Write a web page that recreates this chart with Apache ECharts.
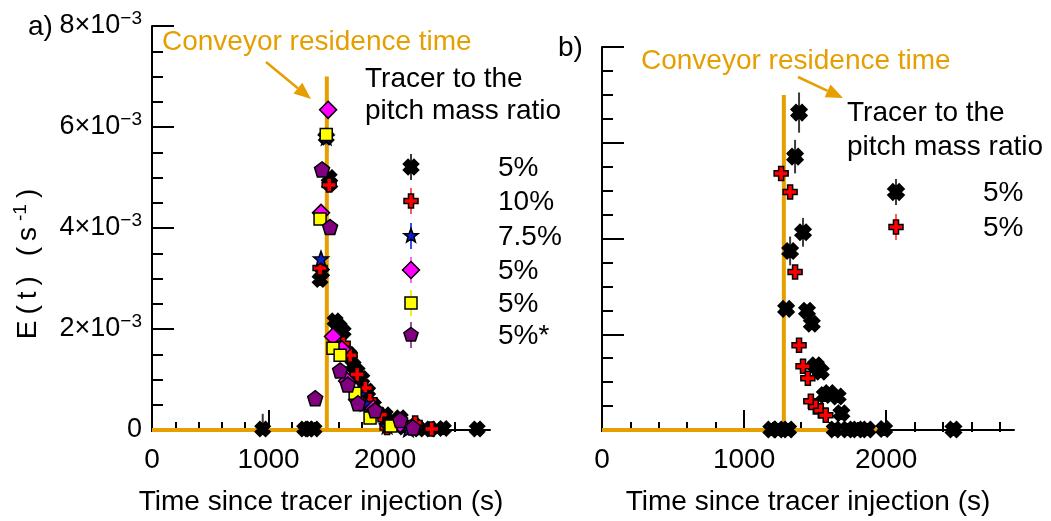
<!DOCTYPE html>
<html>
<head>
<meta charset="utf-8">
<script src="https://cdn.jsdelivr.net/npm/echarts@6/dist/echarts.min.js"></script>
<style>
  html, body { margin: 0; padding: 0; background: #ffffff; }
  #chart { width: 1051px; height: 521px; }
</style>
</head>
<body>
<div id="chart"></div>
<script>
// Residence-time distributions E(t) of tracer runs through the conveyor.
// Each point: [time since injection (s), E(t) (1/s), error half-width (1/s)]

const xMajorTicks = [0, 1000, 2000];
const xMinorTicks = [0, 200, 400, 600, 800, 1000, 1200, 1400, 1600, 1800, 2000, 2200, 2400, 2600, 2800];
const xMax = 2900;
const yMax = 0.008;
const yStep = 0.002;

// plug-flow reference (conveyor residence time)
const convA = [[0, 0], [1500, 0], [1500, 0.007], [1500, 0], [2000, 0]];
const convB = [[0, 0], [1280, 0], [1280, 0.007], [1280, 0], [1940, 0]];

// panel a) runs
const aBlack5 = [
  [950, 0.00002, 0.0003], [1310, 0.00002, 0.00005], [1345, 0.00002, 0.00005], [1390, 0.00002, 0.00005],
  [1442, 0.00298, 0.0001], [1455, 0.00312, 0.0001], [1495, 0.00580, 0.0001], [1520, 0.00500, 0.0001],
  [1525, 0.00488, 0.0001], [1571, 0.00216, 0.0001], [1605, 0.00205, 0.0001], [1640, 0.00195, 0.0001],
  [1690, 0.00150, 0.0001], [1725, 0.00128, 0.0001], [1760, 0.00116, 0.0001], [1800, 0.00102, 0.0001],
  [1850, 0.00077, 0.0001], [1900, 0.00049, 0.0001], [2000, 0.00030, 0.0001], [2017, 0.00018, 0.0001],
  [2130, 0.00024, 0.0001], [2160, 0.00006, 0.00005], [2258, 0.00008, 0.00005], [2290, 0.00002, 0.00005],
  [2390, 0.00002, 0.00005], [2500, 0.00003, 0.00005], [2790, 0.00002, 0.00005]
];
const aRed10 = [
  [1442, 0.00321, 0.0001], [1520, 0.00485, 0.0001], [1640, 0.00171, 0.0001], [1700, 0.00148, 0.0001],
  [1760, 0.00110, 0.0001], [1830, 0.00083, 0.0001], [1870, 0.00059, 0.0001], [1960, 0.00030, 0.0001],
  [2017, 0.00005, 0.00005], [2258, 0.00014, 0.00005], [2400, 0.00002, 0.00005]
];
const aBlue7p5 = [
  [1450, 0.00339, 0.0001], [1495, 0.00580, 0.00015], [1610, 0.00160, 0.0001], [1780, 0.00070, 0.0001],
  [1830, 0.00053, 0.0001], [1871, 0.00037, 0.0001], [2017, 0.00008, 0.0001], [2200, 0.00002, 0.00005]
];
const aMagenta5 = [
  [1450, 0.00430, 0.0001], [1511, 0.00634, 0.00015], [1553, 0.00185, 0.0001], [1630, 0.00160, 0.00008],
  [1674, 0.00097, 0.0001], [1760, 0.00060, 0.0001], [1900, 0.00043, 0.0001], [2129, 0.00012, 0.00005]
];
const aYellow5 = [
  [1442, 0.00418, 0.0001], [1495, 0.00585, 0.0001], [1553, 0.00162, 0.0001], [1614, 0.00148, 0.0001],
  [1743, 0.00073, 0.0001], [1871, 0.00024, 0.0001], [2050, 0.00008, 0.00005]
];
const aPurple5s = [
  [1400, 0.00063, 0.0001], [1459, 0.00516, 0.0001], [1528, 0.00402, 0.0001], [1614, 0.00118, 0.0001],
  [1680, 0.00090, 0.0001], [1768, 0.00053, 0.0001], [1914, 0.00039, 0.0001], [2129, 0.00020, 0.0001],
  [2240, 0.00005, 0.00005]
];

// panel b) runs
const bBlack5 = [
  [1192, 0.00001, 0.00005], [1240, 0.00001, 0.00005], [1296, 0.00253, 0.0001], [1310, 0.00001, 0.00005],
  [1324, 0.00374, 0.0003], [1359, 0.00571, 0.00035], [1387, 0.00663, 0.00042], [1415, 0.00413, 0.0003],
  [1443, 0.00249, 0.0001], [1477, 0.00222, 0.0001], [1505, 0.00135, 0.0001], [1540, 0.00122, 0.0001],
  [1568, 0.00073, 0.0001], [1600, 0.00077, 0.0001], [1638, 0.00001, 0.00005], [1659, 0.00070, 0.0001],
  [1685, 0.00035, 0.0001], [1728, 0.00001, 0.00005], [1798, 0.00001, 0.00005], [1868, 0.00001, 0.00005],
  [1986, 0.00002, 0.00005], [2474, 0.00001, 0.00005]
];
const bRed5 = [
  [1261, 0.00536, 0.00008], [1324, 0.00497, 0.00008], [1359, 0.00330, 0.00008], [1387, 0.00177, 0.00008],
  [1415, 0.00133, 0.00008], [1449, 0.00108, 0.00008], [1470, 0.00060, 0.00008], [1505, 0.00048, 0.00008],
  [1540, 0.00040, 0.00008], [1575, 0.00031, 0.00008]
];

const legendTitle = ['Tracer to the', 'pitch mass ratio'];
const aLabels = ['5%', '10%', '7.5%', '5%', '5%', '5%*'];
const bLabels = ['5%', '5%'];

// ---------- marker shapes ----------
function plusPts(w) {
  return [[-w, -1], [w, -1], [w, -w], [1, -w], [1, w], [w, w], [w, 1], [-w, 1], [-w, w], [-1, w], [-1, -w], [-w, -w]];
}
function rotatePts(pts, deg) {
  const a = deg * Math.PI / 180, c = Math.cos(a), s = Math.sin(a);
  return pts.map(p => [p[0] * c - p[1] * s, p[0] * s + p[1] * c]);
}
function starPts() {
  const pts = [];
  for (let i = 0; i < 10; i++) {
    const r = i % 2 ? 0.42 : 1;
    const a = -Math.PI / 2 + i * Math.PI / 5;
    pts.push([r * Math.cos(a), r * Math.sin(a)]);
  }
  return pts;
}
function regularPts(n) {
  const pts = [];
  for (let i = 0; i < n; i++) {
    const a = -Math.PI / 2 + i * 2 * Math.PI / n;
    pts.push([Math.cos(a), Math.sin(a)]);
  }
  return pts;
}
const SHAPES = {
  xcross: rotatePts(plusPts(0.45), 45),
  plus: plusPts(0.36),
  star: starPts(),
  diamond: [[0, -1], [1, 0], [0, 1], [-1, 0]],
  square: [[-1, -1], [1, -1], [1, 1], [-1, 1]],
  pentagon: regularPts(5)
};
function symbolPath(name) {
  return 'path://M' + SHAPES[name].map(p => p[0].toFixed(4) + ',' + p[1].toFixed(4)).join('L') + 'Z';
}

const ORANGE = '#E69F00';
const FONT = 'Liberation Sans, Arial, sans-serif';
const FS = 28;

const styleA = [
  { shape: 'xcross', fill: '#000000', bar: '#3a3a3a', size: 15 },
  { shape: 'plus', fill: '#FF0000', bar: '#FF5A5A', size: 14 },
  { shape: 'star', fill: '#0A1ED2', bar: '#3050FF', size: 15 },
  { shape: 'diamond', fill: '#FF00FF', bar: '#FF66FF', size: 17 },
  { shape: 'square', fill: '#FFFF00', bar: '#EEEE22', size: 12 },
  { shape: 'pentagon', fill: '#800080', bar: '#A050A0', size: 15 }
];
const styleB = [
  { shape: 'xcross', fill: '#000000', bar: '#3a3a3a', size: 16 },
  { shape: 'plus', fill: '#FF0000', bar: '#FF5A5A', size: 14 }
];
const dataA = [aBlack5, aRed10, aBlue7p5, aMagenta5, aYellow5, aPurple5s];
const dataB = [bBlack5, bRed5];

// ---------- series ----------
const series = [];
function addConveyor(pts, xi, yi) {
  series.push({
    type: 'line', xAxisIndex: xi, yAxisIndex: yi, data: pts, symbol: 'none', silent: true,
    lineStyle: { color: ORANGE, width: 4 }, z: 1
  });
}
function addRun(pts, st, xi, yi, order) {
  series.push({
    type: 'custom', xAxisIndex: xi, yAxisIndex: yi, data: pts, silent: true, z: 2,
    renderItem: function (params, api) {
      const x = api.value(0), y = api.value(1), e = api.value(2);
      const lo = Math.max(0, y - e);
      const p1 = api.coord([x, lo]), p2 = api.coord([x, y + e]);
      return { type: 'line', shape: { x1: p1[0], y1: p1[1], x2: p2[0], y2: p2[1] },
               style: { stroke: st.bar, lineWidth: 2 } };
    }
  });
  series.push({
    type: 'scatter', xAxisIndex: xi, yAxisIndex: yi, data: pts.map(p => [p[0], p[1]]),
    symbol: symbolPath(st.shape), symbolSize: st.size, z: 3 + order,
    itemStyle: { color: st.fill, borderColor: '#000000', borderWidth: 1.5, opacity: 1 }
  });
}
addConveyor(convA, 0, 0);
addConveyor(convB, 2, 1);
dataA.forEach((d, i) => addRun(d, styleA[i], 0, 0, i));
dataB.forEach((d, i) => addRun(d, styleB[i], 2, 1, i));

// ---------- axes ----------
function xAxes(grid) {
  return [
    {
      type: 'value', gridIndex: grid, position: 'bottom', min: 0, max: xMax, interval: 1000, offset: 2,
      axisLine: { show: true, lineStyle: { color: '#000', width: 2 } },
      axisTick: { show: true, inside: true, length: 20, lineStyle: { color: '#000', width: 2 }, customValues: xMajorTicks },
      axisLabel: { show: true, customValues: xMajorTicks, formatter: v => String(v), margin: 14,
                   color: '#000', fontSize: FS, fontFamily: FONT },
      splitLine: { show: false },
      name: 'Time since tracer injection (s)', nameLocation: 'middle', nameGap: 56,
      nameTextStyle: { color: '#000', fontSize: FS, fontFamily: FONT }
    },
    {
      type: 'value', gridIndex: grid, position: 'bottom', min: 0, max: xMax, interval: 1000, offset: 2,
      axisLine: { show: false },
      axisTick: { show: true, inside: true, length: 10, lineStyle: { color: '#000', width: 2 }, customValues: xMinorTicks },
      axisLabel: { show: false }, splitLine: { show: false }
    }
  ];
}
function yAxis(grid, labels) {
  return {
    type: 'value', gridIndex: grid, min: 0, max: yMax, interval: yStep,
    axisLine: { show: true, lineStyle: { color: '#000', width: 2 } },
    axisTick: { show: true, inside: true, length: 22, lineStyle: { color: '#000', width: 2 } },
    minorTick: { show: true, splitNumber: 4, length: 11, lineStyle: { color: '#000', width: 2 } },
    splitLine: { show: false }, minorSplitLine: { show: false },
    axisLabel: {
      show: labels, margin: 10, color: '#000',
      formatter: function (v) {
        if (v === 0) return '{n|0}';
        return '{n|' + Math.round(v * 1000) + '×10}{s|−3}';
      },
      rich: {
        n: { fontSize: FS - 1, fontFamily: FONT, color: '#000', lineHeight: 34 },
        s: { fontSize: 19, fontFamily: FONT, color: '#000', verticalAlign: 'top', lineHeight: 20 }
      }
    }
  };
}

// ---------- legends, labels and annotations ----------
const graphics = [];
function txt(x, y, text, color, align) {
  graphics.push({ type: 'text', x: x, y: y, silent: true,
    style: { text: text, fill: color || '#000', fontSize: FS, fontFamily: FONT, align: align || 'left', verticalAlign: 'middle' } });
}
function legendItem(cx, cy, st, label, tx) {
  graphics.push({ type: 'line', silent: true, shape: { x1: cx, y1: cy - 13, x2: cx, y2: cy + 13 },
    style: { stroke: st.bar, lineWidth: 2 } });
  const h = st.size / 2;
  graphics.push({ type: 'polygon', silent: true,
    shape: { points: SHAPES[st.shape].map(p => [cx + p[0] * h, cy + p[1] * h]) },
    style: { fill: st.fill, stroke: '#000', lineWidth: 1.5 } });
  txt(tx, cy + 1, label);
}
function arrow(x1, y1, x2, y2) {
  const ang = Math.atan2(y2 - y1, x2 - x1), L = 17, W = 7;
  const bx = x2 - L * Math.cos(ang), by = y2 - L * Math.sin(ang);
  graphics.push({ type: 'line', silent: true, shape: { x1: x1, y1: y1, x2: bx, y2: by },
    style: { stroke: ORANGE, lineWidth: 2.5 } });
  graphics.push({ type: 'polygon', silent: true,
    shape: { points: [[x2, y2], [bx + W * Math.sin(ang), by - W * Math.cos(ang)], [bx - W * Math.sin(ang), by + W * Math.cos(ang)]] },
    style: { fill: ORANGE } });
}

txt(28, 27, 'a)');
txt(558, 48, 'b)');
txt(162, 42, 'Conveyor residence time', ORANGE);
txt(641, 61, 'Conveyor residence time', ORANGE);
arrow(266, 62, 311, 99);
arrow(798, 77, 843, 98);

txt(365, 79, legendTitle[0]);
txt(365, 111, legendTitle[1]);
txt(847, 113, legendTitle[0]);
txt(847, 147, legendTitle[1]);
const rowsA = [167, 201, 236, 270, 303, 335];
aLabels.forEach((l, i) => legendItem(411, rowsA[i], styleA[i], l, 498));
const rowsB = [192, 227];
bLabels.forEach((l, i) => legendItem(896, rowsB[i], styleB[i], l, 983));

// rotated axis title, glyphs spaced out along the axis
const yTitleTokens = ['E', '(', 't', ')', ' ', '(', 's'];
graphics.push({
  type: 'text', x: 28, y: 264, rotation: Math.PI / 2, silent: true,
  style: {
    text: yTitleTokens.map(c => '{m|' + c + '}').join('') + '{s|-1}{m|)}',
    align: 'center', verticalAlign: 'middle',
    rich: {
      m: { fontSize: FS, fontFamily: FONT, fill: '#000', lineHeight: 34, padding: [0, 3, 0, 3] },
      s: { fontSize: 19, fontFamily: FONT, fill: '#000', verticalAlign: 'top', lineHeight: 20, padding: [0, 3, 0, 3] }
    }
  }
});

const chart = echarts.init(document.getElementById('chart'), null, { renderer: 'canvas' });
chart.setOption({
  animation: false,
  backgroundColor: '#ffffff',
  grid: [
    { left: 152, top: 26, width: 338, height: 406 },
    { left: 602, top: 47, width: 412, height: 385 }
  ],
  xAxis: xAxes(0).concat(xAxes(1)),
  yAxis: [yAxis(0, true), yAxis(1, false)],
  series: series,
  graphic: graphics
});
</script>
</body>
</html>
